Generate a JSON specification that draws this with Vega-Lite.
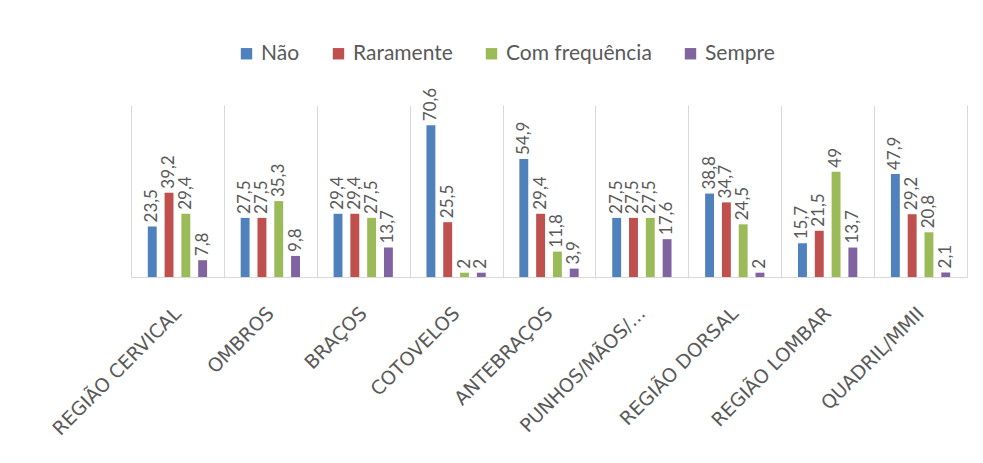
{
  "$schema": "https://vega.github.io/schema/vega-lite/v6.json",
  "width": 836,
  "height": 172,
  "autosize": "none",
  "padding": {"left": 131, "top": 105, "right": 16, "bottom": 186},
  "background": "white",
  "config": {
    "view": {"stroke": null},
    "font": "Lato",
    "locale": {"number": {"decimal": ",", "thousands": ".", "grouping": [3], "currency": ["", ""]}}
  },
  "data": {"values": [
    {"c": "REGIÃO CERVICAL", "s": "Não", "v": 23.5},
    {"c": "REGIÃO CERVICAL", "s": "Raramente", "v": 39.2},
    {"c": "REGIÃO CERVICAL", "s": "Com frequência", "v": 29.4},
    {"c": "REGIÃO CERVICAL", "s": "Sempre", "v": 7.8},
    {"c": "OMBROS", "s": "Não", "v": 27.5},
    {"c": "OMBROS", "s": "Raramente", "v": 27.5},
    {"c": "OMBROS", "s": "Com frequência", "v": 35.3},
    {"c": "OMBROS", "s": "Sempre", "v": 9.8},
    {"c": "BRAÇOS", "s": "Não", "v": 29.4},
    {"c": "BRAÇOS", "s": "Raramente", "v": 29.4},
    {"c": "BRAÇOS", "s": "Com frequência", "v": 27.5},
    {"c": "BRAÇOS", "s": "Sempre", "v": 13.7},
    {"c": "COTOVELOS", "s": "Não", "v": 70.6},
    {"c": "COTOVELOS", "s": "Raramente", "v": 25.5},
    {"c": "COTOVELOS", "s": "Com frequência", "v": 2},
    {"c": "COTOVELOS", "s": "Sempre", "v": 2},
    {"c": "ANTEBRAÇOS", "s": "Não", "v": 54.9},
    {"c": "ANTEBRAÇOS", "s": "Raramente", "v": 29.4},
    {"c": "ANTEBRAÇOS", "s": "Com frequência", "v": 11.8},
    {"c": "ANTEBRAÇOS", "s": "Sempre", "v": 3.9},
    {"c": "PUNHOS/MÃOS/...", "s": "Não", "v": 27.5},
    {"c": "PUNHOS/MÃOS/...", "s": "Raramente", "v": 27.5},
    {"c": "PUNHOS/MÃOS/...", "s": "Com frequência", "v": 27.5},
    {"c": "PUNHOS/MÃOS/...", "s": "Sempre", "v": 17.6},
    {"c": "REGIÃO DORSAL", "s": "Não", "v": 38.8},
    {"c": "REGIÃO DORSAL", "s": "Raramente", "v": 34.7},
    {"c": "REGIÃO DORSAL", "s": "Com frequência", "v": 24.5},
    {"c": "REGIÃO DORSAL", "s": "Sempre", "v": 2},
    {"c": "REGIÃO LOMBAR", "s": "Não", "v": 15.7},
    {"c": "REGIÃO LOMBAR", "s": "Raramente", "v": 21.5},
    {"c": "REGIÃO LOMBAR", "s": "Com frequência", "v": 49},
    {"c": "REGIÃO LOMBAR", "s": "Sempre", "v": 13.7},
    {"c": "QUADRIL/MMII", "s": "Não", "v": 47.9},
    {"c": "QUADRIL/MMII", "s": "Raramente", "v": 29.2},
    {"c": "QUADRIL/MMII", "s": "Com frequência", "v": 20.8},
    {"c": "QUADRIL/MMII", "s": "Sempre", "v": 2.1}
  ]},
  "encoding": {
    "x": {
      "field": "c", "type": "nominal", "sort": null,
      "scale": {"paddingInner": 0, "paddingOuter": 0},
      "axis": {
        "title": null, "labelAngle": -45, "labelAlign": "right", "labelBaseline": "middle",
        "ticks": false, "tickBand": "extent", "grid": true, "gridColor": "#d9d9d9",
        "domainColor": "#d9d9d9", "labelFontSize": 19, "labelFont": "DejaVu Sans",
        "labelColor": "#595959", "labelPadding": 33, "labelLimit": 300
      }
    },
    "xOffset": {
      "field": "s", "type": "nominal",
      "scale": {"domain": ["Não", "Raramente", "Com frequência", "Sempre"], "paddingInner": 0.47, "paddingOuter": 1.215}
    },
    "y": {"field": "v", "type": "quantitative", "scale": {"domain": [0, 80]}, "axis": null},
    "color": {
      "field": "s", "type": "nominal",
      "scale": {"domain": ["Não", "Raramente", "Com frequência", "Sempre"], "range": ["#4F81BD", "#C0504D", "#9BBB59", "#8064A2"]},
      "legend": {
        "orient": "none", "legendX": 105, "legendY": -62, "direction": "horizontal", "title": null,
        "symbolType": "square", "symbolSize": 130, "symbolStrokeWidth": 0, "labelFontSize": 21,
        "labelColor": "#595959", "columnPadding": 28, "labelOffset": 4
      }
    }
  },
  "layer": [
    {"mark": {"type": "bar"}},
    {
      "mark": {"type": "text", "angle": 270, "align": "left", "baseline": "middle", "dx": 4, "fontSize": 17, "color": "#595959"},
      "encoding": {"text": {"field": "v", "type": "quantitative", "format": ".3~r"}, "color": {"value": "#595959"}}
    }
  ]
}
